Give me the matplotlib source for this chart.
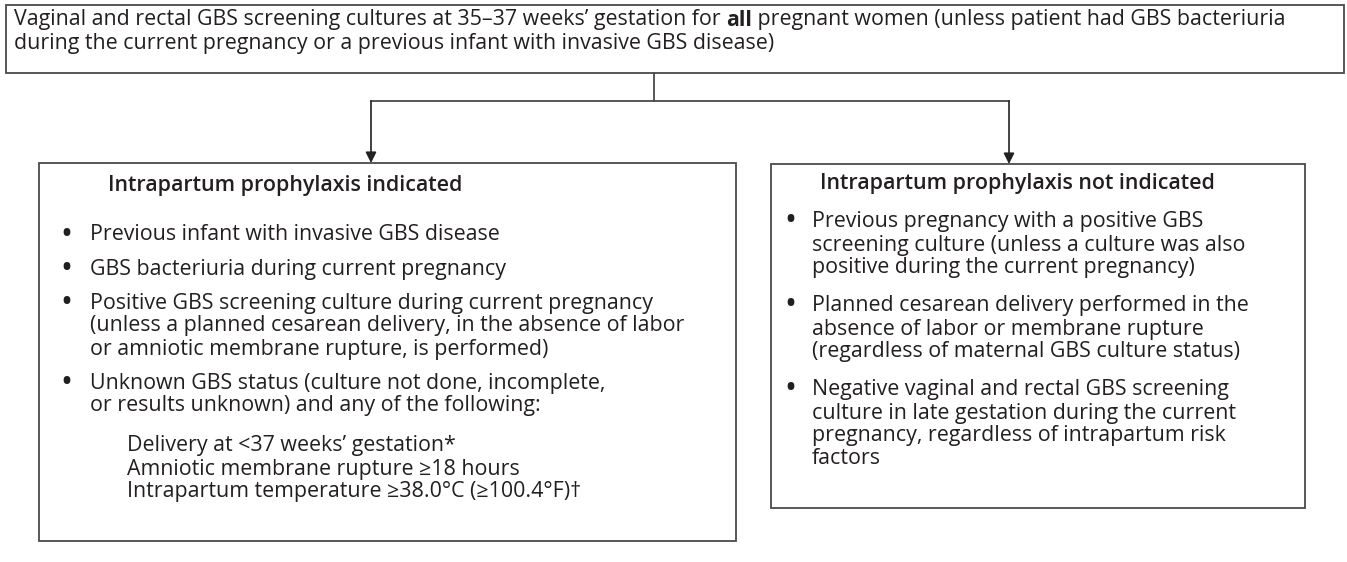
import matplotlib
matplotlib.use("Agg")
import matplotlib.pyplot as plt
from matplotlib.patches import Rectangle

plt.rcParams['font.family'] = ['Open Sans', 'DejaVu Sans']

# texto de los cuadros
top_lines = [
    ("Vaginal and rectal GBS screening cultures at 35\u201337 weeks\u2019 gestation for ", "all",
     " pregnant women (unless patient had GBS bacteriuria"),
    ("during the current pregnancy or a previous infant with invasive GBS disease)", "", ""),
]
left_title = "Intrapartum prophylaxis indicated"
left_bullets = [
    ["Previous infant with invasive GBS disease"],
    ["GBS bacteriuria during current pregnancy"],
    ["Positive GBS screening culture during current pregnancy",
     "(unless a planned cesarean delivery, in the absence of labor",
     "or amniotic membrane rupture, is performed)"],
    ["Unknown GBS status (culture not done, incomplete,",
     "or results unknown) and any of the following:"],
]
left_sub = ["Delivery at <37 weeks\u2019 gestation*",
            "Amniotic membrane rupture \u226518 hours",
            "Intrapartum temperature \u226538.0\u00b0C (\u2265100.4\u00b0F)\u2020"]
right_title = "Intrapartum prophylaxis not indicated"
right_bullets = [
    ["Previous pregnancy with a positive GBS",
     "screening culture (unless a culture was also",
     "positive during the current pregnancy)"],
    ["Planned cesarean delivery performed in the",
     "absence of labor or membrane rupture",
     "(regardless of maternal GBS culture status)"],
    ["Negative vaginal and rectal GBS screening",
     "culture in late gestation during the current",
     "pregnancy, regardless of intrapartum risk",
     "factors"],
]

txt = "#231f20"
edge = "#4a4a4a"
lh = 23  # alto de linea en px

fig = plt.figure(figsize=(13.47, 5.62), dpi=100)
ax = fig.add_axes([0, 0, 1, 1])
ax.set_xlim(0, 1347)
ax.set_ylim(562, 0)
ax.axis("off")
fig.canvas.draw()
r = fig.canvas.get_renderer()


def ancho(t):
    bb = t.get_window_extent(renderer=r)
    return ax.transData.inverted().transform((bb.x1, 0))[0]


# tamaño de letra ajustado al ancho de la primera linea
prueba = ax.text(14, 20, "".join(top_lines[0][:2]) + top_lines[0][2], fontsize=10)
fs = 0.965 * 10 * (1328 - 14) / (ancho(prueba) - 14)
prueba.remove()

# cuadros
for (x0, y0, x1, y1) in [(6, 5, 1344, 73), (39, 163, 736, 541), (771, 164, 1305, 508)]:
    ax.add_patch(Rectangle((x0, y0), x1 - x0, y1 - y0, fill=False, ec=edge, lw=1.3))

# conectores
ax.plot([654, 654], [73, 101], color=edge, lw=1.3)
ax.plot([371, 1009], [101, 101], color=edge, lw=1.3)
for xa, yb in [(371, 163), (1009, 164)]:
    ax.annotate("", xy=(xa, yb), xytext=(xa, 101),
                arrowprops=dict(arrowstyle="-|>", color="#222222", lw=1.2,
                                mutation_scale=16, shrinkA=0, shrinkB=0))

# texto superior
for i, (a, b, c) in enumerate(top_lines):
    y = 20 + i * lh
    t = ax.text(14, y, a, fontsize=fs, color=txt, va="center")
    if b:
        t2 = ax.text(ancho(t), y, b, fontsize=fs, color=txt, va="center", fontweight="bold")
        ax.text(ancho(t2), y, c, fontsize=fs, color=txt, va="center")


def caja(titulo, x_title, y_title, xb, xt, y0, bullets, gap):
    ax.text(x_title, y_title, titulo, fontsize=fs, color=txt, va="center", fontweight="semibold")
    y = y0
    for item in bullets:
        ax.text(xb, y, "\u2022", fontsize=fs * 1.5, color=txt, va="center", ha="center")
        for line in item:
            ax.text(xt, y, line, fontsize=fs, color=txt, va="center")
            y += lh
        y += gap


caja(left_title, 108, 185, 66, 90, 235, left_bullets, 11)
for k, line in enumerate(left_sub):
    ax.text(127, 446 + k * lh, line, fontsize=fs, color=txt, va="center")
caja(right_title, 820, 183, 790, 812, 222, right_bullets, 15)

fig.savefig("out.png", dpi=100)
